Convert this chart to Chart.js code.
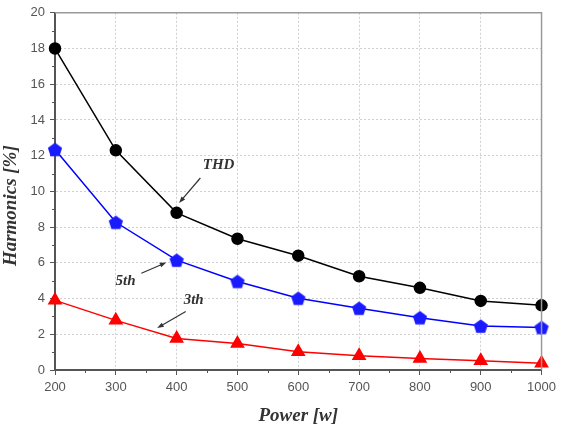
<!DOCTYPE html>
<html>
<head>
<meta charset="utf-8">
<script src="https://cdn.jsdelivr.net/npm/chart.js@4.4.0/dist/chart.umd.min.js"></script>
<style>
  html, body { margin: 0; padding: 0; background: #fff; }
  #wrap { width: 561px; height: 428px; }
</style>
</head>
<body>
<div id="wrap"><canvas id="myChart" width="561" height="428"></canvas></div>
<script>
// data
var powers = [200, 300, 400, 500, 600, 700, 800, 900, 1000];
var thd = [18.0, 12.3, 8.8, 7.35, 6.4, 5.25, 4.6, 3.87, 3.62];
var fifth = [12.35, 8.27, 6.15, 4.96, 4.02, 3.46, 2.93, 2.46, 2.38];
var third = [3.9, 2.78, 1.77, 1.48, 1.02, 0.8, 0.65, 0.52, 0.38];

// labels with arrows, in data units: [text, textX, textY, fromX, fromY, toX, toY]
var notes = [
    ["THD", 469, 11.45, 439, 10.75, 404, 9.35],
    ["5th", 316, 5.0, 342, 5.42, 383, 6.02],
    ["3th", 428, 3.93, 415, 3.27, 368, 2.35]
];

function toPoints(ys) {
    return ys.map(function (y, i) { return { x: powers[i], y: y }; });
}

// Chart.js has no pentagon, draw one into a small canvas
function pentagon(size, color) {
    var c = document.createElement('canvas');
    c.width = size; c.height = size;
    var g = c.getContext('2d');
    var r = size / 2;
    g.beginPath();
    for (var i = 0; i < 5; i++) {
        var a = -Math.PI / 2 + i * 2 * Math.PI / 5;
        var px = r + (r - 0.5) * Math.cos(a);
        var py = r + 0.8 + (r - 0.5) * Math.sin(a);
        if (i == 0) g.moveTo(px, py); else g.lineTo(px, py);
    }
    g.closePath();
    g.fillStyle = color;
    g.fill();
    return c;
}

var extras = {
    id: 'extras',
    afterDraw: function (chart) {
        var ctx = chart.ctx;
        var xs = chart.scales.x, ys = chart.scales.y;
        var a = chart.chartArea;
        ctx.save();
        // frame
        ctx.strokeStyle = '#9a9a9a';
        ctx.lineWidth = 1.5;
        ctx.beginPath();
        ctx.moveTo(a.left, a.top);
        ctx.lineTo(a.right, a.top);
        ctx.lineTo(a.right, a.bottom);
        ctx.stroke();
        // minor ticks
        ctx.strokeStyle = '#555';
        ctx.lineWidth = 1;
        ctx.beginPath();
        for (var v = 250; v < 1000; v += 100) {
            var px = Math.round(xs.getPixelForValue(v)) + 0.5;
            ctx.moveTo(px, a.bottom);
            ctx.lineTo(px, a.bottom + 3);
        }
        for (var w = 1; w < 20; w += 2) {
            var py = Math.round(ys.getPixelForValue(w)) + 0.5;
            ctx.moveTo(a.left, py);
            ctx.lineTo(a.left - 3, py);
        }
        ctx.stroke();
        // annotations
        ctx.fillStyle = '#333';
        ctx.strokeStyle = '#333';
        ctx.font = 'italic bold 15px "Liberation Serif"';
        ctx.textAlign = 'center';
        ctx.textBaseline = 'middle';
        notes.forEach(function (n) {
            ctx.fillText(n[0], xs.getPixelForValue(n[1]), ys.getPixelForValue(n[2]));
            var x1 = xs.getPixelForValue(n[3]), y1 = ys.getPixelForValue(n[4]);
            var x2 = xs.getPixelForValue(n[5]), y2 = ys.getPixelForValue(n[6]);
            var ang = Math.atan2(y2 - y1, x2 - x1);
            ctx.lineWidth = 1.2;
            ctx.beginPath();
            ctx.moveTo(x1, y1);
            ctx.lineTo(x2 - 5 * Math.cos(ang), y2 - 5 * Math.sin(ang));
            ctx.stroke();
            ctx.beginPath();
            ctx.moveTo(x2, y2);
            ctx.lineTo(x2 - 7 * Math.cos(ang - 0.35), y2 - 7 * Math.sin(ang - 0.35));
            ctx.lineTo(x2 - 7 * Math.cos(ang + 0.35), y2 - 7 * Math.sin(ang + 0.35));
            ctx.closePath();
            ctx.fill();
        });
        ctx.restore();
    }
};

var tickFont = { family: '"Liberation Sans", Arial', size: 13 };
var titleFont = { family: '"Liberation Serif", "Times New Roman"', size: 19, weight: 'bold', style: 'italic' };

var ctx = document.getElementById('myChart').getContext('2d');
var myChart = new Chart(ctx, {
    type: 'line',
    data: {
        datasets: [
            {
                label: 'THD',
                data: toPoints(thd),
                borderColor: '#000',
                backgroundColor: '#000',
                borderWidth: 1.5,
                pointStyle: 'circle',
                pointRadius: 5.5,
                tension: 0
            },
            {
                label: '5th',
                data: toPoints(fifth),
                borderColor: '#0000ff',
                backgroundColor: '#0000ff',
                borderWidth: 1.5,
                pointStyle: pentagon(16, '#1a1aff'),
                pointRadius: 7,
                tension: 0
            },
            {
                label: '3th',
                data: toPoints(third),
                borderColor: '#ff0000',
                backgroundColor: '#ff0000',
                borderWidth: 1.5,
                pointStyle: 'triangle',
                pointRadius: 7,
                tension: 0
            }
        ]
    },
    options: {
        responsive: false,
        animation: false,
        clip: false,
        layout: { padding: { left: 0, right: 18, top: 12, bottom: 0 } },
        plugins: {
            legend: { display: false },
            tooltip: { enabled: false }
        },
        scales: {
            x: {
                type: 'linear',
                min: 200,
                max: 1000,
                ticks: { stepSize: 100, color: '#555', font: tickFont, padding: 5,
                         callback: function (v) { return String(v); } },
                grid: { color: '#cfcfcf', tickColor: '#555', tickLength: 5, drawTicks: true },
                border: { color: '#555', width: 2, dash: [2, 2] },
                title: { display: true, text: 'Power [w]', color: '#333', font: titleFont, padding: { top: 4, bottom: 1 } },
                afterFit: function (s) { s.height = 58; }
            },
            y: {
                min: 0,
                max: 20,
                ticks: { stepSize: 2, color: '#555', font: tickFont, padding: 5 },
                grid: { color: '#cfcfcf', tickColor: '#555', tickLength: 5, drawTicks: true },
                border: { color: '#555', width: 2, dash: [2, 2] },
                // trailing spaces nudge the title a little lower, as in the reference
                title: { display: true, text: 'Harmonics [%]      ', color: '#333', font: titleFont, padding: { top: 0, bottom: 2 } },
                afterFit: function (s) { s.width = 55; }
            }
        }
    },
    plugins: [extras]
});
</script>
</body>
</html>
